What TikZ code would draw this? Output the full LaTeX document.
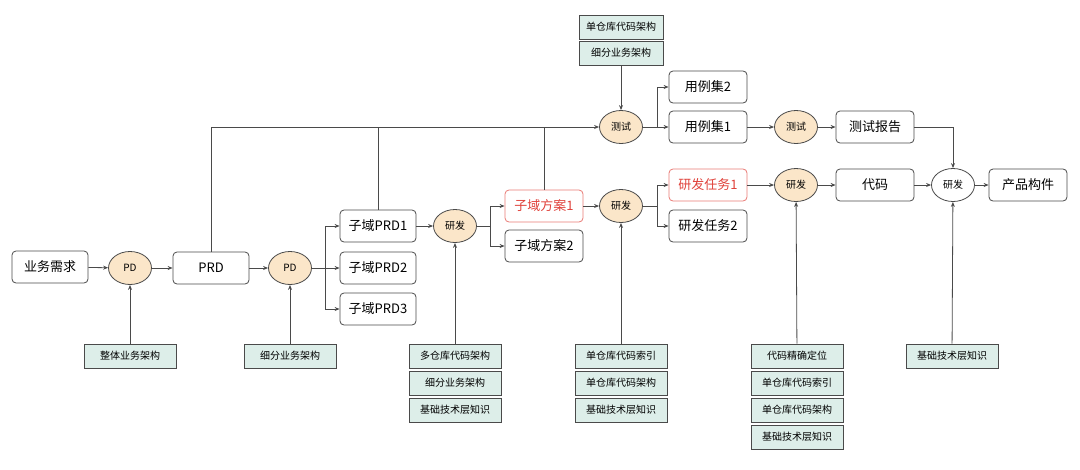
\documentclass[tikz,border=0pt]{standalone}
\usepackage{fontspec}
\setmainfont{Noto Sans CJK SC}
\usepackage{xcolor}
\usetikzlibrary{shapes,arrows,arrows.meta,positioning,calc}
\definecolor{pdfill}{HTML}{FBE6C9}
\definecolor{kbfill}{HTML}{DDEEE9}
\definecolor{hot}{HTML}{E0413A}
\definecolor{linegray}{HTML}{4A4A4A}

\begin{document}
\begin{tikzpicture}[
    x=1pt, y=-1pt,
    box/.style={rectangle, draw=linegray, rounded corners=4pt, minimum width=76pt, minimum height=32pt, align=center, fill=white, font=\fontsize{13}{15}\selectfont, line width=0.8pt},
    hotbox/.style={box, draw=hot!70, text=hot},
    proc/.style={ellipse, draw=linegray, minimum width=43pt, minimum height=33pt, inner sep=0pt, fill=pdfill, font=\fontsize{10}{12}\selectfont, line width=0.8pt},
    kb/.style={rectangle, draw=linegray, minimum width=92pt, minimum height=24pt, inner sep=2pt, fill=kbfill, font=\fontsize{10}{12}\selectfont, line width=0.7pt},
    arrow/.style={-{Stealth[length=5pt,width=4pt]}, draw=linegray, line width=0.8pt},
    wire/.style={draw=linegray, line width=0.8pt}
]
\useasboundingbox (0,0) rectangle (1080,469);

% main flow
\node[box] (req) at (50,267) {业务需求};
\node[proc] (pd1) at (130,268) {PD};
\node[box] (prd) at (211,268) {PRD};
\node[proc] (pd2) at (290,268) {PD};
\node[box] (prd1) at (378,226) {子域PRD1};
\node[box] (prd2) at (378,268) {子域PRD2};
\node[box] (prd3) at (378,309) {子域PRD3};
\node[proc] (dev1) at (455,226) {研发};
\node[hotbox, minimum width=78pt] (sol1) at (544,206) {子域方案1};
\node[box, minimum width=78pt] (sol2) at (544,246) {子域方案2};
\node[proc] (dev2) at (621,206) {研发};
\node[hotbox, minimum width=78pt] (task1) at (708,185) {研发任务1};
\node[box, minimum width=78pt] (task2) at (708,226) {研发任务2};
\node[proc] (dev3) at (796,185) {研发};
\node[box, minimum width=78pt] (code) at (875,185) {代码};
\node[proc, fill=white] (dev4) at (953,185) {研发};
\node[box, minimum width=78pt] (prod) at (1028,185) {产品构件};

% test flow
\node[proc] (test1) at (621,127) {测试};
\node[box, minimum width=78pt] (case2) at (708,87) {用例集2};
\node[box, minimum width=78pt] (case1) at (708,127) {用例集1};
\node[proc] (test2) at (796,127) {测试};
\node[box, minimum width=78pt] (report) at (875,127) {测试报告};

% knowledge
\node[kb, minimum width=84pt] (ktA) at (621,53) {细分业务架构};
\node[kb, minimum width=84pt] (ktB) at (621,27) {单仓库代码架构};
\node[kb] (k1) at (130,356) {整体业务架构};
\node[kb] (k2) at (290,356) {细分业务架构};
\node[kb] (k3a) at (455,356) {多仓库代码架构};
\node[kb] (k3b) at (455,383) {细分业务架构};
\node[kb] (k3c) at (455,410) {基础技术层知识};
\node[kb] (k4a) at (621,356) {单仓库代码索引};
\node[kb] (k4b) at (621,383) {单仓库代码架构};
\node[kb] (k4c) at (621,410) {基础技术层知识};
\node[kb] (k5a) at (797,356) {代码精确定位};
\node[kb] (k5b) at (797,383) {单仓库代码索引};
\node[kb] (k5c) at (797,410) {单仓库代码架构};
\node[kb] (k5d) at (797,437) {基础技术层知识};
\node[kb] (k6) at (952,356) {基础技术层知识};

\draw[arrow] (req) -- (pd1);
\draw[arrow] (pd1) -- (prd);
\draw[arrow] (prd) -- (pd2);
\draw[arrow] (pd2) -- (prd2);
\draw[arrow] (pd2.east) -- ++(13,0) |- (prd1);
\draw[arrow] (pd2.east) -- ++(13,0) |- (prd3);
\draw[arrow] (prd1) -- (dev1);
\draw[arrow] (dev1.east) -- ++(13,0) |- (sol1);
\draw[arrow] (dev1.east) -- ++(13,0) |- (sol2);
\draw[arrow] (sol1) -- (dev2);
\draw[arrow] (dev2.east) -- ++(14,0) |- (task1);
\draw[arrow] (dev2.east) -- ++(14,0) |- (task2);
\draw[arrow] (task1) -- (dev3);
\draw[arrow] (dev3) -- (code);
\draw[arrow] (code) -- (dev4);
\draw[arrow] (dev4) -- (prod);

\draw[arrow] (prd.north) |- (test1);
\draw[wire] (prd1.north) -- (prd1.north |- test1);
\draw[wire] (sol1.north) -- (sol1.north |- test1);
\draw[arrow] (test1.east) -- ++(14,0) |- (case2);
\draw[arrow] (test1) -- (case1);
\draw[arrow] (case1) -- (test2);
\draw[arrow] (test2) -- (report);
\draw[arrow] (report.east) -| (dev4.north);

\draw[arrow] (ktA) -- (test1);
\draw[arrow] (k1) -- (pd1);
\draw[arrow] (k2) -- (pd2);
\draw[arrow] (k3a) -- (dev1);
\draw[arrow] (k4a) -- (dev2);
\draw[arrow] (k5a) -- (dev3);
\draw[arrow] (k6) -- (dev4);

\end{tikzpicture}
\end{document}
